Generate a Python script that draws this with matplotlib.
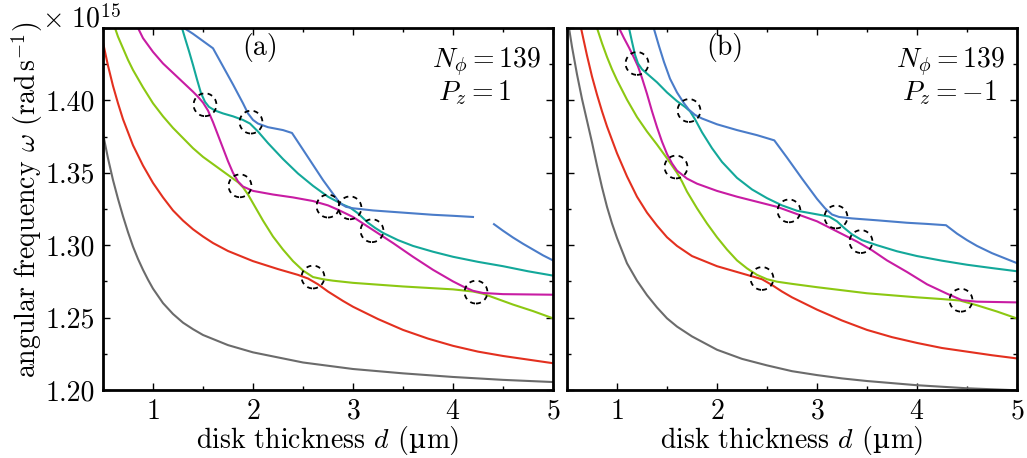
import numpy as np
import matplotlib
matplotlib.use("Agg")
import matplotlib.pyplot as plt
from matplotlib.ticker import MultipleLocator, FuncFormatter
from matplotlib.offsetbox import TextArea, HPacker, AnchoredOffsetbox

plt.rcParams['font.family'] = ['cmr10', 'DejaVu Serif']
plt.rcParams['mathtext.fontset'] = 'cm'
plt.rcParams['axes.unicode_minus'] = False
plt.rcParams['axes.formatter.use_mathtext'] = True

# ---- panel (a): N_phi = 139, P_z = 1 ----
gray_a_d = [0.5, 0.55, 0.6, 0.65, 0.7, 0.75, 0.8, 0.85, 0.9, 0.95, 1.0, 1.1, 1.2, 1.3, 1.4, 1.5, 1.75, 2.0, 2.25, 2.5, 3.0, 3.5, 4.0, 4.5, 5.0]
gray_a_w = [1.377, 1.360, 1.345, 1.332, 1.320, 1.309, 1.299, 1.2905, 1.283, 1.2762, 1.270, 1.260, 1.2525, 1.2465, 1.242, 1.238, 1.231, 1.226, 1.2225, 1.219, 1.2145, 1.2115, 1.209, 1.207, 1.2055]

red_a_d = [0.5, 0.55, 0.6, 0.65, 0.7, 0.8, 0.9, 1.0, 1.1, 1.2, 1.3, 1.4, 1.5, 1.6, 1.75, 2.0, 2.25, 2.45, 2.55, 2.65, 2.75, 2.9, 3.0, 3.25, 3.5, 3.75, 4.0, 4.25, 4.5, 4.75, 5.0]
red_a_w = [1.440, 1.424, 1.410, 1.398, 1.387, 1.369, 1.355, 1.343, 1.333, 1.324, 1.317, 1.311, 1.306, 1.3015, 1.296, 1.289, 1.2835, 1.2795, 1.277, 1.273, 1.268, 1.2615, 1.2575, 1.249, 1.2415, 1.2355, 1.2305, 1.2265, 1.2235, 1.221, 1.2185]

green_a_d = [0.62, 0.65, 0.7, 0.75, 0.8, 0.9, 1.0, 1.1, 1.2, 1.3, 1.4, 1.5, 1.6, 1.7, 1.8, 1.85, 1.9, 1.95, 2.0, 2.1, 2.2, 2.3, 2.4, 2.5, 2.6, 2.7, 2.8, 3.0, 3.5, 4.0, 4.2, 4.3, 4.4, 4.6, 4.8, 5.0]
green_a_w = [1.450, 1.444, 1.436, 1.428, 1.421, 1.409, 1.398, 1.389, 1.381, 1.374, 1.367, 1.361, 1.356, 1.351, 1.346, 1.3435, 1.340, 1.335, 1.329, 1.317, 1.306, 1.297, 1.289, 1.2825, 1.278, 1.2765, 1.2755, 1.274, 1.2715, 1.2695, 1.268, 1.2665, 1.264, 1.259, 1.2545, 1.2495]

magenta_a_d = [0.85, 0.9, 1.0, 1.1, 1.2, 1.3, 1.4, 1.45, 1.5, 1.55, 1.6, 1.65, 1.7, 1.75, 1.8, 1.85, 1.9, 2.0, 2.2, 2.4, 2.6, 2.75, 2.85, 3.0, 3.1, 3.2, 3.4, 3.6, 3.8, 4.0, 4.1, 4.2, 4.3, 4.5, 5.0]
magenta_a_w = [1.450, 1.443, 1.4335, 1.4255, 1.419, 1.4125, 1.406, 1.4025, 1.3985, 1.393, 1.385, 1.376, 1.367, 1.358, 1.350, 1.344, 1.3405, 1.3375, 1.335, 1.333, 1.3305, 1.3275, 1.3245, 1.3195, 1.315, 1.3105, 1.3015, 1.292, 1.283, 1.275, 1.2715, 1.2685, 1.267, 1.2662, 1.2658]

teal_a_d = [1.29, 1.32, 1.36, 1.4, 1.44, 1.48, 1.52, 1.56, 1.62, 1.7, 1.8, 1.9, 1.97, 2.05, 2.15, 2.3, 2.45, 2.6, 2.75, 2.9, 2.97, 3.05, 3.15, 3.22, 3.3, 3.45, 3.6, 3.8, 4.0, 4.25, 4.5, 4.75, 5.0]
teal_a_w = [1.450, 1.443, 1.434, 1.4245, 1.4145, 1.405, 1.399, 1.3955, 1.393, 1.391, 1.389, 1.3865, 1.384, 1.3785, 1.3705, 1.3595, 1.3495, 1.341, 1.3335, 1.328, 1.326, 1.322, 1.3155, 1.312, 1.3085, 1.3035, 1.2995, 1.2955, 1.292, 1.2885, 1.2855, 1.282, 1.279]

blue_a1_d = [1.31, 1.4, 1.5, 1.6, 1.7, 1.8, 1.9, 1.95, 2.0, 2.05, 2.15, 2.3, 2.39, 2.5, 2.6, 2.7, 2.8, 2.87, 2.93, 3.0, 3.2, 3.5, 3.8, 4.0, 4.2]
blue_a1_w = [1.450, 1.446, 1.441, 1.436, 1.4235, 1.411, 1.398, 1.391, 1.3865, 1.384, 1.3815, 1.3795, 1.3775, 1.366, 1.3555, 1.345, 1.3355, 1.329, 1.3265, 1.3255, 1.324, 1.3225, 1.321, 1.3203, 1.3195]
blue_a2_d = [4.41, 4.5, 4.6, 4.7, 4.8, 4.9, 5.0]
blue_a2_w = [1.3145, 1.310, 1.3053, 1.301, 1.297, 1.293, 1.2895]

circ_a_d = [1.52, 1.98, 1.87, 2.75, 2.97, 3.19, 2.6, 4.23]
circ_a_w = [1.397, 1.385, 1.341, 1.327, 1.3258, 1.310, 1.278, 1.2676]

# ---- panel (b): N_phi = 139, P_z = -1 ----
gray_b_d = [0.52, 0.55, 0.6, 0.65, 0.7, 0.75, 0.8, 0.85, 0.9, 0.95, 1.0, 1.1, 1.2, 1.3, 1.4, 1.5, 1.6, 1.75, 2.0, 2.25, 2.5, 2.75, 3.0, 3.25, 3.5, 4.0, 4.5, 5.0]
gray_b_w = [1.450, 1.437, 1.418, 1.401, 1.386, 1.371, 1.355, 1.340, 1.3265, 1.315, 1.305, 1.2875, 1.2755, 1.2655, 1.257, 1.2495, 1.2438, 1.237, 1.2278, 1.2215, 1.217, 1.213, 1.2103, 1.208, 1.2062, 1.2033, 1.2012, 1.1998]

red_b_d = [0.64, 0.7, 0.75, 0.8, 0.85, 0.9, 1.0, 1.1, 1.2, 1.3, 1.4, 1.5, 1.6, 1.75, 2.0, 2.2, 2.35, 2.45, 2.55, 2.65, 2.75, 3.0, 3.25, 3.5, 3.75, 4.0, 4.25, 4.5, 4.75, 5.0]
red_b_w = [1.450, 1.431, 1.4165, 1.404, 1.3925, 1.382, 1.3635, 1.3475, 1.3335, 1.3225, 1.3135, 1.3055, 1.2995, 1.2925, 1.2855, 1.2815, 1.2785, 1.2765, 1.2725, 1.268, 1.264, 1.2555, 1.248, 1.2415, 1.2365, 1.2325, 1.229, 1.2265, 1.224, 1.2218]

green_b_d = [0.8, 0.85, 0.9, 0.95, 1.0, 1.1, 1.2, 1.3, 1.4, 1.5, 1.55, 1.6, 1.65, 1.7, 1.8, 1.9, 2.0, 2.1, 2.2, 2.3, 2.4, 2.5, 2.6, 2.75, 3.0, 3.5, 4.0, 4.25, 4.43, 4.6, 4.8, 5.0]
green_b_w = [1.450, 1.4395, 1.430, 1.4215, 1.414, 1.4005, 1.3885, 1.3785, 1.3695, 1.360, 1.355, 1.350, 1.344, 1.337, 1.3255, 1.315, 1.3055, 1.297, 1.2895, 1.284, 1.2795, 1.2765, 1.2748, 1.2733, 1.271, 1.2668, 1.264, 1.2628, 1.2618, 1.2585, 1.2542, 1.2494]

magenta_b_d = [1.02, 1.07, 1.12, 1.17, 1.21, 1.25, 1.3, 1.35, 1.4, 1.45, 1.5, 1.55, 1.6, 1.7, 1.8, 2.0, 2.2, 2.4, 2.6, 2.7, 2.8, 3.0, 3.2, 3.4, 3.55, 3.7, 3.9, 4.1, 4.3, 4.45, 4.6, 5.0]
magenta_b_w = [1.450, 1.443, 1.4365, 1.4295, 1.4235, 1.4155, 1.4045, 1.3925, 1.3815, 1.3715, 1.363, 1.3565, 1.3515, 1.346, 1.3425, 1.3375, 1.3335, 1.330, 1.3265, 1.324, 1.3215, 1.3165, 1.3095, 1.3025, 1.2965, 1.2895, 1.2815, 1.273, 1.2665, 1.262, 1.261, 1.2605]

teal_b_d = [1.12, 1.15, 1.18, 1.21, 1.25, 1.3, 1.4, 1.5, 1.6, 1.68, 1.73, 1.78, 1.85, 1.95, 2.05, 2.2, 2.35, 2.5, 2.65, 2.8, 3.0, 3.12, 3.2, 3.27, 3.35, 3.45, 3.6, 3.8, 4.0, 4.25, 4.5, 4.75, 5.0]
teal_b_w = [1.450, 1.4405, 1.4315, 1.4255, 1.4215, 1.4185, 1.4125, 1.4055, 1.3995, 1.3955, 1.3925, 1.387, 1.378, 1.367, 1.3575, 1.3465, 1.3385, 1.3325, 1.3275, 1.3238, 1.3213, 1.3198, 1.3165, 1.312, 1.3075, 1.3035, 1.300, 1.2958, 1.2925, 1.2893, 1.2865, 1.2842, 1.282]

blue_b_d = [1.367, 1.42, 1.47, 1.53, 1.6, 1.67, 1.72, 1.78, 1.85, 2.0, 2.2, 2.4, 2.573, 2.7, 2.85, 3.0, 3.08, 3.15, 3.22, 3.35, 3.6, 3.9, 4.1, 4.29, 4.4, 4.5, 4.6, 4.75, 5.0]
blue_b_w = [1.450, 1.4375, 1.4265, 1.415, 1.4055, 1.398, 1.3935, 1.390, 1.3875, 1.3835, 1.3795, 1.376, 1.3724, 1.3605, 1.346, 1.332, 1.3255, 1.3212, 1.3195, 1.3185, 1.3172, 1.3155, 1.3147, 1.3138, 1.308, 1.3035, 1.2995, 1.2945, 1.2876]

circ_b_d = [1.2, 1.72, 1.59, 2.72, 3.19, 3.44, 2.45, 4.44]
circ_b_w = [1.4255, 1.393, 1.354, 1.3237, 1.3195, 1.3025, 1.277, 1.262]

c_gray = '#6b6b6b'
c_red = '#e3301f'
c_green = '#8cc812'
c_magenta = '#c81ca3'
c_teal = '#13a89a'
c_blue = '#4a7cc9'

fig = plt.figure(figsize=(10.27, 4.58), dpi=100)
ax_a = fig.add_axes([103 / 1027, 68 / 458, 450 / 1027, 362 / 458])
ax_b = fig.add_axes([567 / 1027, 68 / 458, 450 / 1027, 362 / 458])

panels = [
    (ax_a, [(gray_a_d, gray_a_w, c_gray), (red_a_d, red_a_w, c_red),
            (green_a_d, green_a_w, c_green), (magenta_a_d, magenta_a_w, c_magenta),
            (teal_a_d, teal_a_w, c_teal), (blue_a1_d, blue_a1_w, c_blue),
            (blue_a2_d, blue_a2_w, c_blue)],
     circ_a_d, circ_a_w, '(a)', '$P_z = 1$'),
    (ax_b, [(gray_b_d, gray_b_w, c_gray), (red_b_d, red_b_w, c_red),
            (green_b_d, green_b_w, c_green), (magenta_b_d, magenta_b_w, c_magenta),
            (teal_b_d, teal_b_w, c_teal), (blue_b_d, blue_b_w, c_blue)],
     circ_b_d, circ_b_w, '(b)', '$P_z = -1$'),
]


def ylab(v, pos):
    # top tick (1.45) carries no label, the x10^15 sits there
    if v > 1.44:
        return ''
    return '%.2f' % v


def xlabel_box(ax):
    # cmr10 has no micro sign, so that one glyph comes from DejaVu Serif
    tp = dict(fontsize=20)
    parts = [TextArea('disk thickness $d$ (', textprops=tp),
             TextArea('\u00b5', textprops=dict(fontsize=19, family='DejaVu Serif')),
             TextArea('m)', textprops=tp)]
    box = HPacker(children=parts, align='baseline', pad=0, sep=0)
    ab = AnchoredOffsetbox(loc='upper center', child=box, pad=0, borderpad=0,
                           frameon=False, bbox_to_anchor=(0.5, -0.095),
                           bbox_transform=ax.transAxes)
    ax.add_artist(ab)


for ax, curves, cd, cw, tag, pz in panels:
    for d, w, col in curves:
        ax.plot(d, w, color=col, lw=1.5)
    ax.scatter(cd, cw, s=270, facecolors='none', edgecolors='black',
               linewidths=1.3, linestyles=(0, (2.8, 2.4)), zorder=5)
    ax.set_xlim(0.5, 5)
    ax.set_ylim(1.20, 1.45)
    ax.xaxis.set_major_locator(MultipleLocator(1))
    ax.xaxis.set_minor_locator(MultipleLocator(0.5))
    ax.yaxis.set_major_locator(MultipleLocator(0.05))
    ax.yaxis.set_minor_locator(MultipleLocator(0.025))
    ax.tick_params(which='both', direction='in', top=True, right=True,
                   labelsize=20, width=1.0, pad=6)
    ax.tick_params(which='major', length=5)
    ax.tick_params(which='minor', length=3)
    for sp in ax.spines.values():
        sp.set_linewidth(2.0)
    xlabel_box(ax)
    ax.text(0.35, 0.945, tag, transform=ax.transAxes, fontsize=20,
            ha='center', va='center')
    ax.text(0.731, 0.8895, r'$N_\phi = 139$', transform=ax.transAxes,
            fontsize=20, ha='left', va='baseline')
    ax.text(0.744, 0.801, pz, transform=ax.transAxes,
            fontsize=20, ha='left', va='baseline')

ax_a.yaxis.set_major_formatter(FuncFormatter(ylab))
ax_b.tick_params(labelleft=False)

fig.text(27 / 1027, 0.563, r'angular frequency $\omega$ $(\mathrm{rad\,s}^{-1})$',
         rotation=90, fontsize=20, ha='center', va='center')
fig.text(42 / 1027, 1 - 27 / 458, r'$\times\ 10^{15}$', fontsize=20,
         ha='left', va='baseline')

fig.savefig('out.png', dpi=100)
